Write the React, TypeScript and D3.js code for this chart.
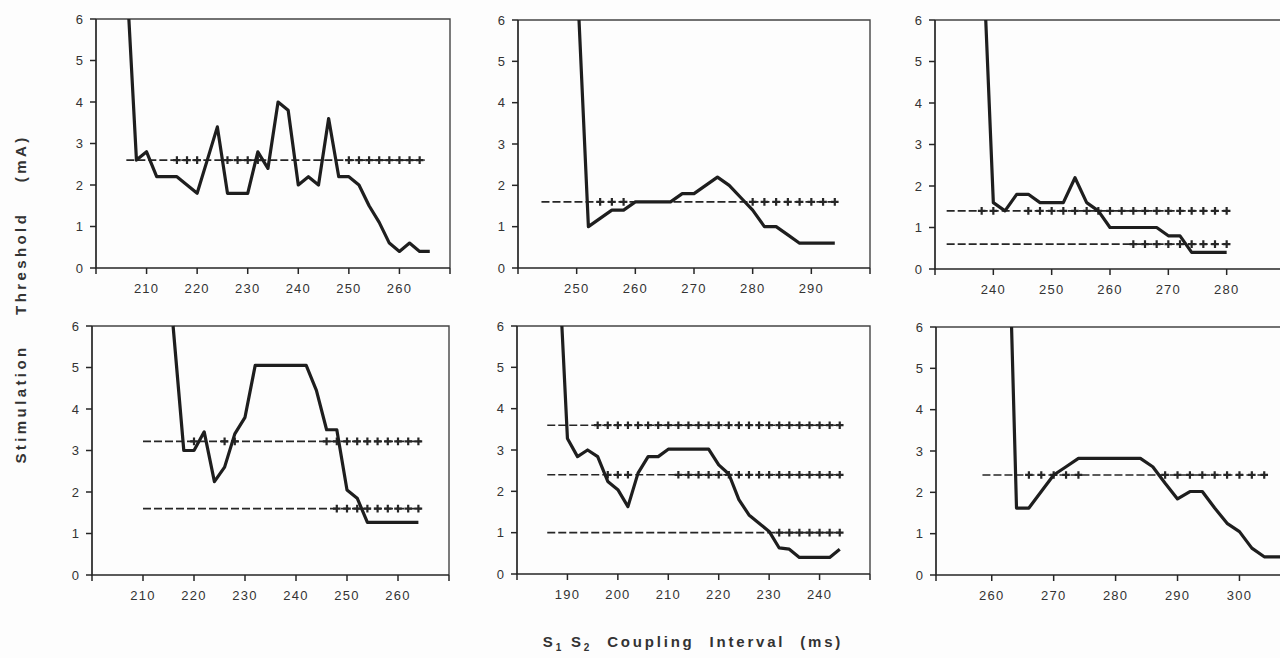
import React, { useEffect, useRef } from "react";
import * as d3 from "d3";

type Pt = [number, number];
type Ref = { level: number; from: number; to: number; plus: number[] };

const yTicks = [0, 1, 2, 3, 4, 5, 6];

// panel 1 (top left)
const p1Domain = [200, 270];
const p1Labels = [210, 220, 230, 240, 250, 260];
const p1Solid: Pt[] = [
  [206.5, 6], [208, 2.6], [210, 2.8], [212, 2.2], [214, 2.2], [216, 2.2], [218, 2.0],
  [220, 1.8], [222, 2.6], [224, 3.4], [226, 1.8], [228, 1.8], [230, 1.8], [232, 2.8],
  [234, 2.4], [236, 4.0], [238, 3.8], [240, 2.0], [242, 2.2], [244, 2.0], [246, 3.6],
  [248, 2.2], [250, 2.2], [252, 2.0], [254, 1.5], [256, 1.1], [258, 0.6], [260, 0.4],
  [262, 0.6], [264, 0.4], [266, 0.4],
];
const p1Refs: Ref[] = [
  { level: 2.6, from: 206, to: 265, plus: [216, 218, 220, 226, 228, 230, 232, 250, 252, 254, 256, 258, 260, 262, 264] },
];

// panel 2 (top middle)
const p2Domain = [240, 300];
const p2Labels = [250, 260, 270, 280, 290];
const p2Solid: Pt[] = [
  [250.4, 6], [252, 1.0], [254, 1.2], [256, 1.4], [258, 1.4], [260, 1.6], [262, 1.6],
  [264, 1.6], [266, 1.6], [268, 1.8], [270, 1.8], [272, 2.0], [274, 2.2], [276, 2.0],
  [278, 1.7], [280, 1.4], [282, 1.0], [284, 1.0], [286, 0.8], [288, 0.6], [290, 0.6],
  [292, 0.6], [294, 0.6],
];
const p2Refs: Ref[] = [
  { level: 1.6, from: 244, to: 294.5, plus: [254, 256, 258, 280, 282, 284, 286, 288, 290, 292, 294] },
];

// panel 3 (top right)
const p3Domain = [230, 290];
const p3Labels = [240, 250, 260, 270, 280];
const p3Solid: Pt[] = [
  [238.7, 6], [240, 1.6], [242, 1.4], [244, 1.8], [246, 1.8], [248, 1.6], [250, 1.6],
  [252, 1.6], [254, 2.2], [256, 1.6], [258, 1.4], [260, 1.0], [262, 1.0], [264, 1.0],
  [266, 1.0], [268, 1.0], [270, 0.8], [272, 0.8], [274, 0.4], [276, 0.4], [278, 0.4],
  [280, 0.4],
];
const p3Refs: Ref[] = [
  { level: 1.4, from: 232, to: 280.5, plus: [238, 240, 246, 248, 250, 252, 254, 256, 258, 260, 262, 264, 266, 268, 270, 272, 274, 276, 278, 280] },
  { level: 0.6, from: 232, to: 280.5, plus: [264, 266, 268, 270, 272, 274, 276, 278, 280] },
];

// panel 4 (bottom left)
const p4Domain = [200, 270];
const p4Labels = [210, 220, 230, 240, 250, 260];
const p4Solid: Pt[] = [
  [215.9, 6], [218, 3.0], [220, 3.0], [222, 3.45], [224, 2.25], [226, 2.6], [228, 3.4],
  [230, 3.8], [232, 5.05], [234, 5.05], [236, 5.05], [238, 5.05], [240, 5.05], [242, 5.05],
  [244, 4.45], [246, 3.5], [248, 3.5], [250, 2.05], [252, 1.85], [254, 1.27], [256, 1.27],
  [258, 1.27], [260, 1.27], [262, 1.27], [264, 1.27],
];
const p4Refs: Ref[] = [
  { level: 3.22, from: 210, to: 264.5, plus: [220, 226, 228, 246, 248, 250, 252, 254, 256, 258, 260, 262, 264] },
  { level: 1.6, from: 210, to: 264.5, plus: [248, 250, 252, 254, 256, 258, 260, 262, 264] },
];

// panel 5 (bottom middle)
const p5Domain = [180, 250];
const p5Labels = [190, 200, 210, 220, 230, 240];
const p5Solid: Pt[] = [
  [188.9, 6], [190, 3.28], [192, 2.84], [194, 3.0], [196, 2.84], [198, 2.24], [200, 2.04],
  [202, 1.63], [204, 2.44], [206, 2.84], [208, 2.84], [210, 3.02], [212, 3.02], [214, 3.02],
  [216, 3.02], [218, 3.02], [220, 2.64], [222, 2.42], [224, 1.8], [226, 1.43], [228, 1.23],
  [230, 1.03], [232, 0.63], [234, 0.6], [236, 0.4], [238, 0.4], [240, 0.4], [242, 0.4],
  [244, 0.6],
];
const p5Refs: Ref[] = [
  { level: 3.6, from: 186, to: 244.5, plus: [196, 198, 200, 202, 204, 206, 208, 210, 212, 214, 216, 218, 220, 222, 224, 226, 228, 230, 232, 234, 236, 238, 240, 242, 244] },
  { level: 2.4, from: 186, to: 244.5, plus: [198, 200, 202, 212, 214, 216, 218, 220, 222, 224, 226, 228, 230, 232, 234, 236, 238, 240, 242, 244] },
  { level: 1.0, from: 186, to: 244.5, plus: [232, 234, 236, 238, 240, 242, 244] },
];

// panel 6 (bottom right)
const p6Domain = [251, 308];
const p6Labels = [260, 270, 280, 290, 300];
const p6Solid: Pt[] = [
  [263.2, 6], [264, 1.62], [266, 1.62], [268, 2.02], [270, 2.42], [272, 2.62], [274, 2.82],
  [276, 2.82], [278, 2.82], [280, 2.82], [282, 2.82], [284, 2.82], [286, 2.62], [288, 2.22],
  [290, 1.84], [292, 2.02], [294, 2.02], [296, 1.62], [298, 1.25], [300, 1.05], [302, 0.65],
  [304, 0.44], [306, 0.44], [308, 0.44],
];
const p6Refs: Ref[] = [
  { level: 2.42, from: 258.5, to: 304.5, plus: [266, 268, 270, 272, 274, 288, 290, 292, 294, 296, 298, 300, 302, 304] },
];

const panels = [
  { domain: p1Domain, labels: p1Labels, solid: p1Solid, refs: p1Refs },
  { domain: p2Domain, labels: p2Labels, solid: p2Solid, refs: p2Refs },
  { domain: p3Domain, labels: p3Labels, solid: p3Solid, refs: p3Refs },
  { domain: p4Domain, labels: p4Labels, solid: p4Solid, refs: p4Refs },
  { domain: p5Domain, labels: p5Labels, solid: p5Solid, refs: p5Refs },
  { domain: p6Domain, labels: p6Labels, solid: p6Solid, refs: p6Refs },
];

// pixel boxes of the six plots
const frames = [
  { x0: 96, x1: 450, y0: 268, y1: 19 },
  { x0: 518, x1: 870, y0: 268, y1: 20 },
  { x0: 935, x1: 1285, y0: 269, y1: 20 },
  { x0: 92, x1: 449, y0: 575, y1: 326 },
  { x0: 517, x1: 870, y0: 574, y1: 326 },
  { x0: 936, x1: 1289, y0: 575, y1: 327 },
];

const ink = "#262626";
const font = "'Liberation Sans', Arial, Helvetica, sans-serif";

const App = () => {
  const svgRef = useRef<SVGSVGElement>(null);

  useEffect(() => {
    const svg = d3.select(svgRef.current);
    svg.selectAll("*").remove();

    svg.append("rect").attr("width", 1280).attr("height", 658).attr("fill", "#fdfdfd");

    panels.forEach((p, i) => {
      const f = frames[i];
      const x = d3.scaleLinear().domain(p.domain).range([f.x0, f.x1]);
      const y = d3.scaleLinear().domain([0, 6]).range([f.y0, f.y1]);
      const g = svg.append("g");

      // frame
      g.append("path")
        .attr("d", `M${f.x0},${f.y1}H${f.x1}V${f.y0}`)
        .attr("fill", "none")
        .attr("stroke", "#444")
        .attr("stroke-width", 1.4);
      g.append("path")
        .attr("d", `M${f.x0},${f.y1}V${f.y0}H${f.x1}`)
        .attr("fill", "none")
        .attr("stroke", ink)
        .attr("stroke-width", 1.7);

      // y ticks
      g.selectAll(".yt")
        .data(yTicks)
        .join("line")
        .attr("x1", f.x0 - 6)
        .attr("x2", f.x0)
        .attr("y1", (d) => y(d))
        .attr("y2", (d) => y(d))
        .attr("stroke", ink)
        .attr("stroke-width", 1.5);
      g.selectAll(".yl")
        .data(yTicks)
        .join("text")
        .attr("x", f.x0 - 13)
        .attr("y", (d) => y(d))
        .attr("dy", "0.36em")
        .attr("text-anchor", "end")
        .style("font", `13px ${font}`)
        .attr("fill", "#333")
        .text((d) => d);

      // x ticks (labelled ones plus the two ends)
      const xt = [p.domain[0], ...p.labels, p.domain[1]];
      g.selectAll(".xt")
        .data(xt)
        .join("line")
        .attr("x1", (d) => x(d))
        .attr("x2", (d) => x(d))
        .attr("y1", f.y0)
        .attr("y2", f.y0 + 6)
        .attr("stroke", ink)
        .attr("stroke-width", 1.5);
      g.selectAll(".xl")
        .data(p.labels)
        .join("text")
        .attr("x", (d) => x(d))
        .attr("y", f.y0 + 25)
        .attr("text-anchor", "middle")
        .style("font", `13px ${font}`)
        .style("letter-spacing", "1.2px")
        .attr("fill", "#333")
        .text((d) => d);

      // dashed reference lines with + marks
      p.refs.forEach((r) => {
        g.append("line")
          .attr("x1", x(r.from))
          .attr("x2", x(r.to))
          .attr("y1", y(r.level))
          .attr("y2", y(r.level))
          .attr("stroke", ink)
          .attr("stroke-width", 1.6)
          .attr("stroke-dasharray", "8,3");
        g.selectAll(null)
          .data(r.plus)
          .join("path")
          .attr("transform", (d) => `translate(${x(d)},${y(r.level)})`)
          .attr("d", "M-3.8,0H3.8M0,-3.8V3.8")
          .attr("stroke", ink)
          .attr("stroke-width", 2.2);
      });

      // threshold curve
      const line = d3
        .line<Pt>()
        .x((d) => x(d[0]))
        .y((d) => y(d[1]));
      g.append("path")
        .datum(p.solid)
        .attr("d", line)
        .attr("fill", "none")
        .attr("stroke", "#1e1e1e")
        .attr("stroke-width", 3.2)
        .attr("stroke-linejoin", "round");
    });

    // axis titles
    svg.append("text")
      .attr("transform", "translate(26,299) rotate(-90)")
      .attr("text-anchor", "middle")
      .style("font", `bold 15px ${font}`)
      .style("letter-spacing", "3.4px")
      .style("word-spacing", "22px")
      .attr("fill", "#333")
      .text("Stimulation Threshold (mA)");

    const xt = svg.append("text")
      .attr("x", 693)
      .attr("y", 647)
      .attr("text-anchor", "middle")
      .style("font", `bold 15px ${font}`)
      .style("letter-spacing", "2.8px")
      .attr("fill", "#333");
    xt.append("tspan").text("S");
    xt.append("tspan").attr("dy", 4).style("font-size", "10px").text("1");
    xt.append("tspan").attr("dy", -4).text(" S");
    xt.append("tspan").attr("dy", 4).style("font-size", "10px").text("2");
    xt.append("tspan").attr("dy", -4).style("word-spacing", "8px").text("  Coupling  Interval  (ms)");
  }, []);

  return (
    <svg
      ref={svgRef}
      width={1280}
      height={658}
      style={{ position: "absolute", left: 0, top: 0 }}
    ></svg>
  );
};

export default App;
